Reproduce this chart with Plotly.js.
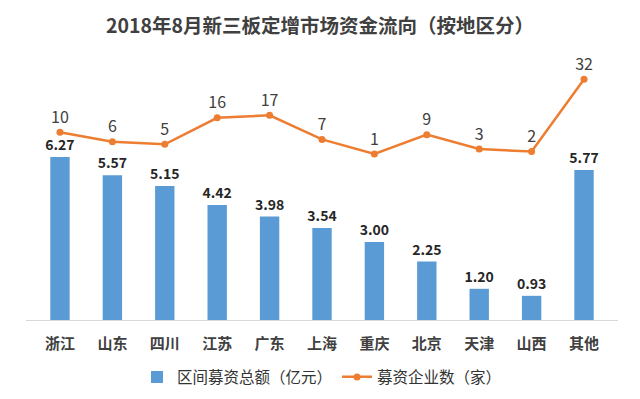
<!DOCTYPE html>
<html>
<head>
<meta charset="utf-8">
<script src="https://cdn.plot.ly/plotly-3.0.1.min.js"></script>
<style>html,body{margin:0;padding:0;background:#fff;}#chart{width:640px;height:399px;}</style>
</head>
<body>
<div id="chart"></div>
<script>
const categories = ['浙江','山东','四川','江苏','广东','上海','重庆','北京','天津','山西','其他'];
const amounts = [6.27, 5.57, 5.15, 4.42, 3.98, 3.54, 3.00, 2.25, 1.20, 0.93, 5.77];
const companies = [10, 6, 5, 16, 17, 7, 1, 9, 3, 2, 32];
const barName = '区间募资总额（亿元）';
const lineName = '募资企业数（家）';
const titleText = '2018年8月新三板定增市场资金流向（按地区分）';

const FONT = '"Noto Sans CJK SC", "Noto Sans", sans-serif';

const traces = [
  {
    type: 'bar', x: categories, y: amounts, name: barName,
    marker: {color: '#5B9BD5'}, width: 0.37,
    text: amounts.map(v => v.toFixed(2)), textposition: 'outside', constraintext: 'none',
    textfont: {family: FONT, size: 14, color: '#262626', weight: 'bold'},
    cliponaxis: false, hoverinfo: 'skip'
  },
  {
    type: 'scatter', mode: 'lines+markers+text', x: categories, y: companies, name: lineName,
    yaxis: 'y2',
    line: {color: '#ED7D31', width: 2.5},
    marker: {color: '#ED7D31', size: 7},
    text: companies.map(String), textposition: 'top center',
    textfont: {family: FONT, size: 16, color: '#404040'},
    cliponaxis: false, hoverinfo: 'skip'
  }
];

const layout = {
  width: 640, height: 399,
  margin: {l: 26, r: 22, t: 60, b: 79, autoexpand: false},
  paper_bgcolor: '#ffffff', plot_bgcolor: '#ffffff',
  font: {family: FONT, color: '#404040'},
  title: {text: titleText, x: 0.5, xanchor: 'center', y: 0.935, yanchor: 'middle',
          font: {family: FONT, size: 19.5, color: '#404040', weight: 'bold'}},
  showlegend: true,
  legend: {orientation: 'h', x: 0.5, xanchor: 'center', y: -0.155, yanchor: 'top',
           font: {family: FONT, size: 15.5, color: '#333333'}, traceorder: 'normal',
           itemwidth: 30},
  bargap: 0.63,
  xaxis: {showgrid: false, showline: true, linecolor: '#d9d9d9', linewidth: 1,
          ticks: '', tickfont: {family: FONT, size: 15, color: '#404040', weight: 'bold'},
          ticklabelstandoff: 10, fixedrange: true},
  yaxis: {range: [0, 10], visible: false, showgrid: false, zeroline: false, fixedrange: true},
  yaxis2: {range: [-68, 40], overlaying: 'y', side: 'right', visible: false,
           showgrid: false, zeroline: false, fixedrange: true}
};

Plotly.newPlot('chart', traces, layout, {displayModeBar: false, staticPlot: true});
</script>
</body>
</html>
